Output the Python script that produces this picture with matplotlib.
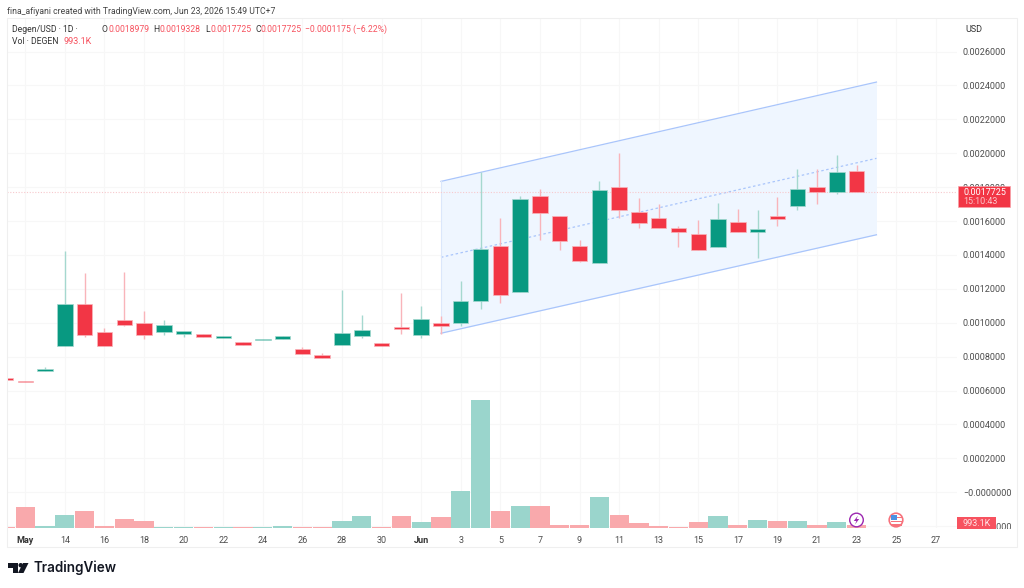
import matplotlib
matplotlib.use("Agg")
import matplotlib.pyplot as plt
from matplotlib.patches import Rectangle, Circle, Polygon

plt.rcParams['font.family'] = ['Roboto', 'DejaVu Sans']

GREEN = "#089981"
RED = "#f23645"
TEXT = "#4c4c4c"
GRID = "#f7f7f7"
FS = 6.5
HEAD = 6.2

opens = [0.000676, 0.000656, 0.000717, 0.000864, 0.001110, 0.000943, 0.001016, 0.000997, 0.000945, 0.000932, 0.000935,
         0.000912, 0.000884, 0.000900, 0.000904, 0.000843, 0.000808, 0.000867, 0.000920, 0.000882, 0.000973, 0.000929,
         0.000998, 0.000998, 0.001128, 0.001451, 0.001179, 0.001746, 0.001631, 0.001453, 0.001350, 0.001801, 0.001653,
         0.001620, 0.001557, 0.001522, 0.001447, 0.001594, 0.001533, 0.001630, 0.001687, 0.001801, 0.001769, 0.0018979]
highs = [0.000676, 0.000656, 0.000737, 0.001423, 0.001295, 0.000967, 0.001297, 0.001069, 0.001016, 0.000950, 0.000935,
         0.000920, 0.000884, 0.000904, 0.000923, 0.000857, 0.000820, 0.001193, 0.001047, 0.000882, 0.001174, 0.001097,
         0.001041, 0.001246, 0.001887, 0.001616, 0.001748, 0.001791, 0.001631, 0.001488, 0.001834, 0.002003, 0.001736,
         0.001700, 0.001572, 0.001606, 0.001705, 0.001669, 0.001665, 0.001743, 0.001909, 0.001907, 0.001991, 0.0019328]
lows = [0.000662, 0.000650, 0.000717, 0.000864, 0.000917, 0.000861, 0.000979, 0.000906, 0.000927, 0.000917, 0.000914,
        0.000912, 0.000868, 0.000900, 0.000904, 0.000817, 0.000792, 0.000867, 0.000912, 0.000861, 0.000933, 0.000912,
        0.000933, 0.000981, 0.001083, 0.001118, 0.001179, 0.001488, 0.001427, 0.001360, 0.001350, 0.001616, 0.001557,
        0.001557, 0.001445, 0.001431, 0.001447, 0.001533, 0.001384, 0.001572, 0.001667, 0.001702, 0.001761, 0.0017725]
closes = [0.000662, 0.000650, 0.000727, 0.001109, 0.000927, 0.000861, 0.000986, 0.000929, 0.000985, 0.000949, 0.000914,
          0.000920, 0.000868, 0.000904, 0.000923, 0.000817, 0.000792, 0.000938, 0.000957, 0.000861, 0.000963, 0.001024,
          0.000981, 0.001130, 0.001433, 0.001162, 0.001730, 0.001647, 0.001484, 0.001366, 0.001785, 0.001663, 0.001587,
          0.001557, 0.001533, 0.001431, 0.001614, 0.001533, 0.001555, 0.001614, 0.001789, 0.001771, 0.001891, 0.0017725]
# volume in millions of DEGEN
volumes = [0.3, 6.2, 0.7, 4.0, 5.0, 0.7, 2.7, 2.1, 0.3, 0.4, 0.3, 0.25, 0.25, 0.2, 0.6, 0.2, 0.25, 2.2, 3.7, 0.4, 3.5,
           1.9, 3.3, 11.1, 38.5, 5.0, 6.6, 6.5, 1.0, 0.9, 9.3, 4.0, 1.5, 0.5, 0.4, 1.7, 3.5, 0.8, 2.4, 2.0, 2.2, 1.0,
           1.7, 0.9931]

x_ticks = [1, 3, 5, 7, 9, 11, 13, 15, 17, 19, 21, 23, 25, 27, 29, 31, 33, 35, 37, 39, 41, 43, 45, 47]
x_labels = ["May", "14", "16", "18", "20", "22", "24", "26", "28", "30", "Jun", "3", "5", "7", "9", "11", "13", "15",
            "17", "19", "21", "23", "25", "27"]
y_ticks = [-0.0002, 0.0, 0.0002, 0.0004, 0.0006, 0.0008, 0.0010, 0.0012, 0.0014, 0.0016, 0.0018, 0.0020, 0.0022,
           0.0024, 0.0026]
y_labels = ["\u22120.0002000", "\u22120.0000000", "0.0002000", "0.0004000", "0.0006000", "0.0008000", "0.0010000",
            "0.0012000", "0.0014000", "0.0016000", "0.0018000", "0.0020000", "0.0022000", "0.0024000", "0.0026000"]

# parallel channel: start bar, end bar, then upper / middle / lower prices at each end
channel_x = [22, 44]
channel_top = [0.001834, 0.002420]
channel_mid = [0.001386, 0.001970]
channel_bot = [0.000938, 0.001519]
last_price = 0.0017725

W, H = 1024, 588
fig = plt.figure(figsize=(W / 100, H / 100), dpi=100, facecolor="white")

# price pane runs from x=7 to 957 and y=18 to 528 in pixels
ax = fig.add_axes([7 / W, 1 - 528 / H, 950 / W, 510 / H])

# volume histogram on its own scale, sharing the time axis
vol = ax.twinx()
vol.set_ylim(0, 510 / 3.32)
vol.set_yticks([])
for s in vol.spines.values():
    s.set_visible(False)
vol_colors = ["#9ad5cc" if closes[i] >= opens[i] else "#f9a9ac" for i in range(len(volumes))]
vol.bar(range(len(volumes)), volumes, width=0.97, color=vol_colors, linewidth=0, zorder=2)

ax.set_xlim(0.076, 48.07)
ax.set_ylim(-0.000211, 0.002798)
for s in ax.spines.values():
    s.set_visible(False)
# twinx moves the ticks back to the left, so this has to come after it
ax.yaxis.tick_right()
ax.set_yticks(y_ticks)
ax.set_yticklabels(y_labels)
ax.set_xticks(x_ticks)
ax.set_xticklabels(x_labels)
ax.tick_params(axis="y", length=0, pad=4.3, labelsize=FS, labelcolor=TEXT)
ax.tick_params(axis="x", length=0, pad=6, labelsize=FS, labelcolor=TEXT)
for lab in ax.get_xticklabels():
    if lab.get_text() in ("May", "Jun"):
        lab.set_fontweight("bold")
        lab.set_color("#333333")
ax.grid(True, color=GRID, lw=0.8)
ax.set_axisbelow(True)

# channel
ax.fill_between(channel_x, channel_bot, channel_top, color="#eff6ff", lw=0, zorder=1)
ax.plot(channel_x, channel_top, color="#a9c5fb", lw=0.9, zorder=2)
ax.plot(channel_x, channel_bot, color="#a9c5fb", lw=0.9, zorder=2)
ax.plot(channel_x, channel_mid, color="#a9c5fb", lw=0.9, ls=(0, (2, 2)), zorder=2)
ax.plot([channel_x[0], channel_x[0]], [channel_bot[0], channel_top[0]], color="#dbe7fb", lw=0.8, zorder=2)

ax.axhline(last_price, color="#f7c9cd", lw=0.8, ls=(0, (1, 1.5)), zorder=2)

# candles
for i in range(len(opens)):
    up = closes[i] >= opens[i]
    c = GREEN if up else RED
    pale = "#a5d8cf" if up else "#f9b4ba"
    ax.vlines(i, lows[i], highs[i], color=pale, lw=1.0, zorder=3)
    ax.bar(i, abs(closes[i] - opens[i]), bottom=min(opens[i], closes[i]), width=0.78,
           color=c, edgecolor=pale, linewidth=0.5, zorder=4)

# frame, tags, header and logo in pixel coordinates
top = fig.add_axes([0, 0, 1, 1], facecolor="none")
top.set_xlim(0, W)
top.set_ylim(H, 0)
top.axis("off")
top.add_patch(Rectangle((958, 528.5), 59, 18, fc="white", ec="none"))
top.add_patch(Rectangle((6.5, 18), 1010.5, 529, fc="none", ec="#efefef", lw=0.8))


def put(x, y, s, color=TEXT, size=FS, **kw):
    top.text(x, y, s, color=color, fontsize=size, va="center", **kw)


put(7, 11, "fina_afiyani created with TradingView.com, Jun 23, 2026 15:49 UTC+7", "#444444", HEAD)
put(965, 29, "USD", "#333333", FS)

put(12, 29, "Degen/USD \u00b7 1D \u00b7", "#333333", HEAD)
put(12, 41, "Vol \u00b7 DEGEN", "#333333", HEAD)
put(63.3, 41, "993.1K", "#f7525f", FS)
for lx, vx, letter, val in [(101, 108.3, "O", "0.0018979"), (153.5, 159, "H", "0.0019328"),
                            (205.6, 210.7, "L", "0.0017725"), (255, 260.7, "C", "0.0017725")]:
    put(lx, 29, letter, "#333333", HEAD)
    put(vx, 29, val, "#f7525f", HEAD)
put(305.3, 29, "\u22120.0001175 (\u22126.22%)", "#f7525f", HEAD)

# last price tag
top.add_patch(Rectangle((957.5, 186), 52.5, 21.3, fc="#f23645", ec="#f7a0a8", lw=0.5, zorder=5))
top.text(963, 192.5, "0.0017725", color="#ffffff", fontsize=FS, va="center", zorder=6)
top.text(963, 201.5, "15:10:43", color="#fbc4c8", fontsize=FS, va="center", zorder=6)

# volume tag
top.add_patch(Rectangle((957, 517), 39, 11.5, fc="#f7525f", ec="none", zorder=5))
top.text(976.5, 523, "993.1K", color="#ffe3e5", fontsize=FS, va="center", ha="center", zorder=6)

# event badges on the time axis
top.add_patch(Circle((856.5, 520), 6.8, fc="white", ec="#9c27b0", lw=1.0, zorder=5))
top.add_patch(Polygon([(858, 515.5), (853.8, 521), (856.4, 521), (855, 524.5), (859.2, 519), (856.6, 519)],
                      fc="#9c27b0", ec="none", zorder=6))
top.add_patch(Circle((896, 520), 6.8, fc="white", ec="#f7727c", lw=1.2, zorder=5))
for sy in (516.5, 520.5, 524):
    top.add_patch(Rectangle((890.5, sy), 11, 1.5, fc="#f7727c", ec="none", zorder=6))
top.add_patch(Rectangle((891, 514.5), 5.5, 5, fc="#4a90e2", ec="none", zorder=7))

# logo
top.add_patch(Polygon([(8, 563), (17.5, 563), (17.5, 573), (12.5, 573), (12.5, 567.5), (8, 567.5)], fc="#131722",
                      ec="none"))
top.add_patch(Circle((20.7, 565.2), 2.2, fc="#131722", ec="none"))
top.add_patch(Polygon([(23, 563), (28.5, 563), (23.5, 573), (18, 573)], fc="#131722", ec="none"))
top.text(33.5, 568, "TradingView", color="#131722", fontsize=9.7, fontfamily="Inter", fontweight="semibold",
         va="center")

fig.savefig("out.png", dpi=100)
